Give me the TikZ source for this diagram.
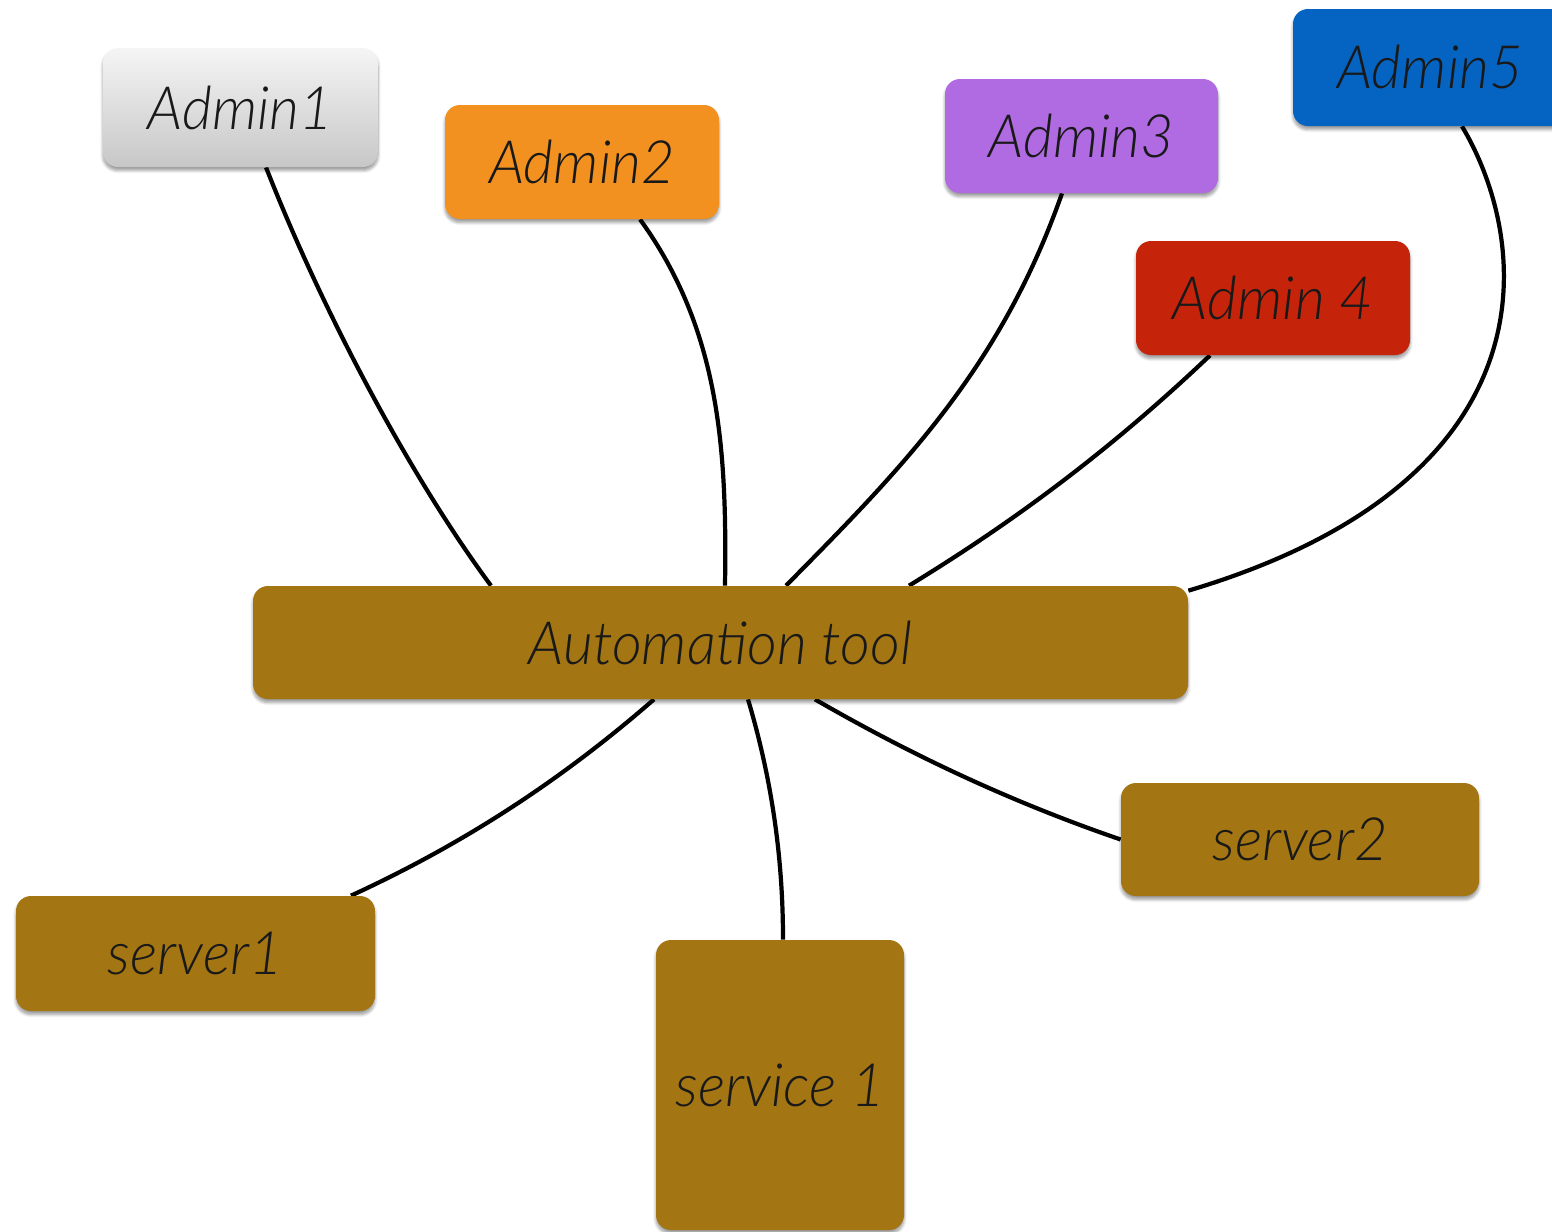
\documentclass[tikz,border=0pt]{standalone}
\usepackage{fontspec}
\newfontfamily\lblfont{Lato Light Italic}[FakeStretch=0.97]
\usetikzlibrary{shadows.blur,backgrounds}
\definecolor{brownbox}{HTML}{A37513}
\definecolor{orangebox}{HTML}{F29120}
\definecolor{purplebox}{HTML}{B06BE2}
\definecolor{redbox}{HTML}{C6240A}
\definecolor{bluebox}{HTML}{0563C1}
\tikzset{
  box/.style={rectangle, rounded corners=0.3cm, inner sep=0pt,
    font=\lblfont\fontsize{34}{40}\selectfont, text=black!90,
    blur shadow={shadow blur steps=6, shadow xshift=0pt, shadow yshift=-0.07cm, shadow opacity=40, shadow blur extra rounding=0.1cm}},
  conn/.style={line width=2.4pt, black},
}
\begin{document}
\begin{tikzpicture}[x=0.02cm, y=-0.02cm]
\useasboundingbox (0,0) rectangle (1552,1231);
\clip (0,0) rectangle (1552,1231);
\node[box, top color=white!96!black, bottom color=black!22, minimum width=275*0.02cm, minimum height=119*0.02cm] (a1) at (240.5,107.5) {Admin1};
\node[box, fill=orangebox, minimum width=274*0.02cm, minimum height=114*0.02cm] (a2) at (582,162) {Admin2};
\node[box, fill=purplebox, minimum width=273*0.02cm, minimum height=114*0.02cm] (a3) at (1081.5,136) {Admin3};
\node[box, fill=redbox, minimum width=274*0.02cm, minimum height=114*0.02cm] (a4) at (1273,298) {Admin 4};
\node[box, fill=bluebox, minimum width=274*0.02cm, minimum height=117*0.02cm] (a5) at (1430,67.5) {Admin5};
\node[box, fill=brownbox, minimum width=935*0.02cm, minimum height=113*0.02cm] (auto) at (720.5,642.5) {Automation tool};
\node[box, fill=brownbox, minimum width=359*0.02cm, minimum height=115*0.02cm] (s1) at (195.5,953.5) {server1};
\node[box, fill=brownbox, minimum width=248*0.02cm, minimum height=290*0.02cm] (svc) at (780,1085) {service 1};
\node[box, fill=brownbox, minimum width=358*0.02cm, minimum height=113*0.02cm] (s2) at (1300,839.5) {server2};
\begin{scope}[on background layer]
\draw[conn] ([shift={(25.5,0)}]a1.south) .. controls (330,330) and (420,490) .. ([shift={(-229.5,0)}]auto.north);
\draw[conn] ([shift={(58,0)}]a2.south) .. controls (720,330) and (727,450) .. ([shift={(4.5,0)}]auto.north);
\draw[conn] ([shift={(-19.5,0)}]a3.south) .. controls (1000,370) and (900,470) .. ([shift={(65.5,0)}]auto.north);
\draw[conn] ([shift={(-63,0)}]a4.south) .. controls (1100,460) and (1000,530) .. ([shift={(188.5,0)}]auto.north);
\draw[conn] ([shift={(32,0)}]a5.south) .. controls (1530,240) and (1560,480) .. ([shift={(0,5)}]auto.north east);
\draw[conn] ([shift={(-66.5,0)}]auto.south) .. controls (550,790) and (450,850) .. ([shift={(155.5,0)}]s1.north);
\draw[conn] ([shift={(27.5,0)}]auto.south) .. controls (775,790) and (783,870) .. ([shift={(3,0)}]svc.north);
\draw[conn] ([shift={(94.5,0)}]auto.south) .. controls (920,760) and (1020,805) .. (s2.west);
\end{scope}
\end{tikzpicture}
\end{document}
